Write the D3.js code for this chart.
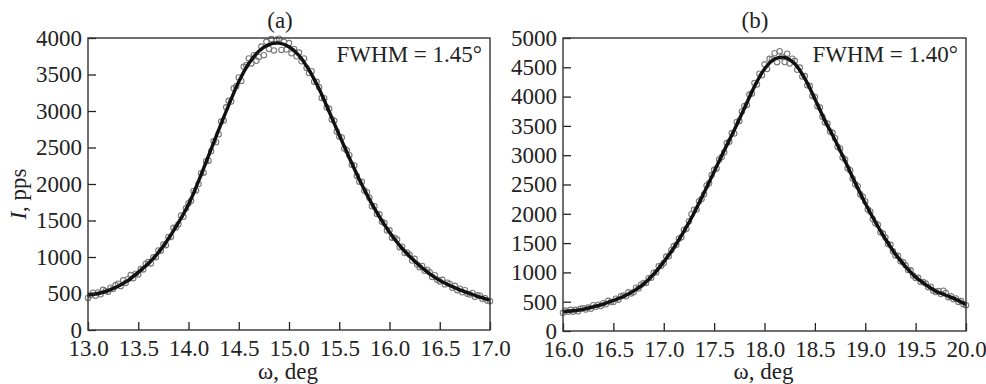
<!DOCTYPE html>
<html>
<head>
<meta charset="utf-8">
<script src="https://cdn.jsdelivr.net/npm/d3@7"></script>
<style>
  body { margin: 0; background: #fff; }
  svg text { font-family: "Liberation Serif", "Times New Roman", serif; fill: #222; }
</style>
</head>
<body>
<div id="chart"></div>
<script>
// panel (a): fitted curve, every 0.1 deg from 13.0
const fitA = [480, 500, 540, 600, 680, 790, 910, 1060, 1250, 1470, 1720, 2040, 2390, 2740, 3080, 3400,
  3650, 3820, 3910, 3930, 3880, 3760, 3560, 3300, 2990, 2670, 2360, 2060, 1790, 1550, 1340, 1160,
  1010, 880, 770, 680, 610, 550, 500, 450, 410];
// panel (a): measured points, every 0.025 deg from 13.0
const pointsA = [440, 475, 510, 470, 515, 490, 550, 535, 525, 580, 560, 615, 635, 600, 680, 645,
  700, 752, 710, 772, 760, 835, 830, 905, 930, 912, 995, 997, 1090, 1087, 1170, 1162,
  1275, 1275, 1400, 1405, 1450, 1567, 1550, 1667, 1735, 1770, 1905, 1910, 2000, 2147, 2155, 2312,
  2320, 2447, 2585, 2572, 2680, 2855, 2870, 3050, 3140, 3130, 3310, 3340, 3460, 3412, 3605, 3627,
  3720, 3652, 3765, 3687, 3740, 3882, 3765, 3947, 3850, 3985, 3830, 3975, 3990, 3837, 3945, 3842,
  3930, 3790, 3850, 3750, 3800, 3680, 3720, 3590, 3520, 3545, 3400, 3400, 3325, 3177, 3175, 3047,
  3030, 2885, 2865, 2720, 2650, 2637, 2485, 2462, 2395, 2265, 2255, 2110, 2030, 2032, 1910, 1887,
  1810, 1695, 1695, 1590, 1585, 1482, 1465, 1362, 1365, 1265, 1265, 1240, 1135, 1142, 1055, 1062,
  1030, 952, 975, 897, 860, 877, 810, 827, 790, 727, 750, 687, 665, 687, 625, 647,
  630, 580, 605, 545, 565, 517, 545, 497, 485, 507, 455, 477, 470, 425, 440, 400, 395];

// panel (b): fitted curve, every 0.1 deg from 16.0
const fitB = [330, 345, 370, 410, 460, 520, 590, 680, 800, 970, 1180, 1420, 1700, 2010, 2360, 2720,
  3080, 3430, 3800, 4170, 4470, 4640, 4670, 4560, 4310, 3960, 3590, 3260, 2900, 2530, 2180, 1860,
  1570, 1310, 1100, 920, 790, 680, 610, 540, 450];
// panel (b): measured points, every 0.025 deg from 16.0
const pointsB = [310, 349, 327, 361, 330, 361, 337, 379, 390, 365, 400, 380, 440, 412, 450, 427,
  475, 455, 515, 495, 495, 552, 535, 592, 605, 592, 660, 642, 660, 740, 725, 790,
  820, 817, 900, 907, 995, 1002, 1105, 1112, 1160, 1270, 1275, 1380, 1450, 1470, 1575, 1600,
  1725, 1747, 1875, 1992, 2070, 2072, 2215, 2252, 2335, 2485, 2520, 2660, 2750, 2775, 2925, 2970,
  3050, 3207, 3230, 3377, 3370, 3567, 3585, 3747, 3840, 3857, 4035, 4052, 4230, 4205, 4390, 4365,
  4550, 4472, 4645, 4637, 4740, 4587, 4775, 4682, 4590, 4732, 4565, 4647, 4610, 4457, 4495, 4342,
  4350, 4192, 4180, 4012, 3995, 3837, 3815, 3657, 3560, 3542, 3405, 3382, 3290, 3145, 3115, 2960,
  2925, 2777, 2745, 2602, 2505, 2472, 2335, 2292, 2210, 2075, 2040, 1910, 1840, 1812, 1685, 1662,
  1595, 1485, 1470, 1360, 1290, 1282, 1190, 1172, 1120, 1040, 1035, 945, 905, 907, 835, 837,
  810, 747, 755, 687, 665, 682, 630, 687, 650, 577, 595, 542, 555, 497, 510, 457, 440];

const xTicksA = [13.0, 13.5, 14.0, 14.5, 15.0, 15.5, 16.0, 16.5, 17.0];
const xTicksB = [16.0, 16.5, 17.0, 17.5, 18.0, 18.5, 19.0, 19.5, 20.0];
const yTicksA = [0, 500, 1000, 1500, 2000, 2500, 3000, 3500, 4000];
const yTicksB = [0, 500, 1000, 1500, 2000, 2500, 3000, 3500, 4000, 4500, 5000];

const width = 986, height = 384;
const fontSize = '23px';
const svg = d3.select('#chart').append('svg')
  .attr('width', width).attr('height', height);

function drawPanel(opt) {
  const x = d3.scaleLinear().domain(opt.xDomain).range([opt.left, opt.right]);
  const y = d3.scaleLinear().domain(opt.yDomain).range([opt.bottom, opt.top]);
  const g = svg.append('g');

  const fitData = opt.fit.map((v, i) => ({ x: opt.xDomain[0] + i * 0.1, y: v }));
  const ptData = opt.points.map((v, i) => ({ x: opt.xDomain[0] + i * 0.025, y: v }));

  // measured points (hollow grey circles)
  g.selectAll('circle').data(ptData).enter()
    .append('circle')
    .attr('cx', d => x(d.x))
    .attr('cy', d => y(d.y))
    .attr('r', 2.7)
    .attr('fill', 'none')
    .attr('stroke', '#7a7a7a')
    .attr('stroke-width', 1.1);

  // fit line
  const line = d3.line().x(d => x(d.x)).y(d => y(d.y)).curve(d3.curveCatmullRom);
  g.append('path').datum(fitData)
    .attr('d', line)
    .attr('fill', 'none')
    .attr('stroke', '#111')
    .attr('stroke-width', 3.4);

  // axes, ticks pointing inward
  const xAxis = g.append('g').attr('transform', `translate(0,${opt.bottom})`)
    .call(d3.axisBottom(x).tickValues(opt.xTicks).tickFormat(d3.format('.1f'))
      .tickSize(-8).tickPadding(10));
  const yAxis = g.append('g').attr('transform', `translate(${opt.left},0)`)
    .call(d3.axisLeft(y).tickValues(opt.yTicks).tickFormat(d3.format('d'))
      .tickSize(-8).tickPadding(6));
  [xAxis, yAxis].forEach(a => {
    a.select('.domain').remove();
    a.selectAll('line').attr('stroke', '#222').attr('stroke-width', 1.3);
    a.selectAll('text').style('font-size', fontSize).attr('fill', '#222');
  });

  // frame
  g.append('rect')
    .attr('x', opt.left).attr('y', opt.top)
    .attr('width', opt.right - opt.left).attr('height', opt.bottom - opt.top)
    .attr('fill', 'none').attr('stroke', '#333').attr('stroke-width', 1.4);

  g.append('text').attr('x', opt.titleX).attr('y', 28)
    .attr('text-anchor', 'middle').style('font-size', fontSize).text(opt.title);

  g.append('text').attr('x', opt.right - 8).attr('y', 62)
    .attr('text-anchor', 'end').style('font-size', fontSize).text(opt.note);

  g.append('text').attr('x', (opt.left + opt.right) / 2 - 1).attr('y', 379)
    .attr('text-anchor', 'middle').style('font-size', fontSize).text('ω, deg');
}

drawPanel({ xDomain: [13, 17], yDomain: [0, 4000], left: 88, right: 490, top: 38, bottom: 330,
  fit: fitA, points: pointsA, xTicks: xTicksA, yTicks: yTicksA,
  title: '(a)', titleX: 280, note: 'FWHM = 1.45°' });
drawPanel({ xDomain: [16, 20], yDomain: [0, 5000], left: 563, right: 966, top: 38, bottom: 331,
  fit: fitB, points: pointsB, xTicks: xTicksB, yTicks: yTicksB,
  title: '(b)', titleX: 755, note: 'FWHM = 1.40°' });

// y axis title
const yt = svg.append('text')
  .attr('transform', 'translate(26,194) rotate(-90)')
  .attr('text-anchor', 'middle').style('font-size', fontSize);
yt.append('tspan').style('font-style', 'italic').text('I');
yt.append('tspan').text(', pps');
</script>
</body>
</html>
